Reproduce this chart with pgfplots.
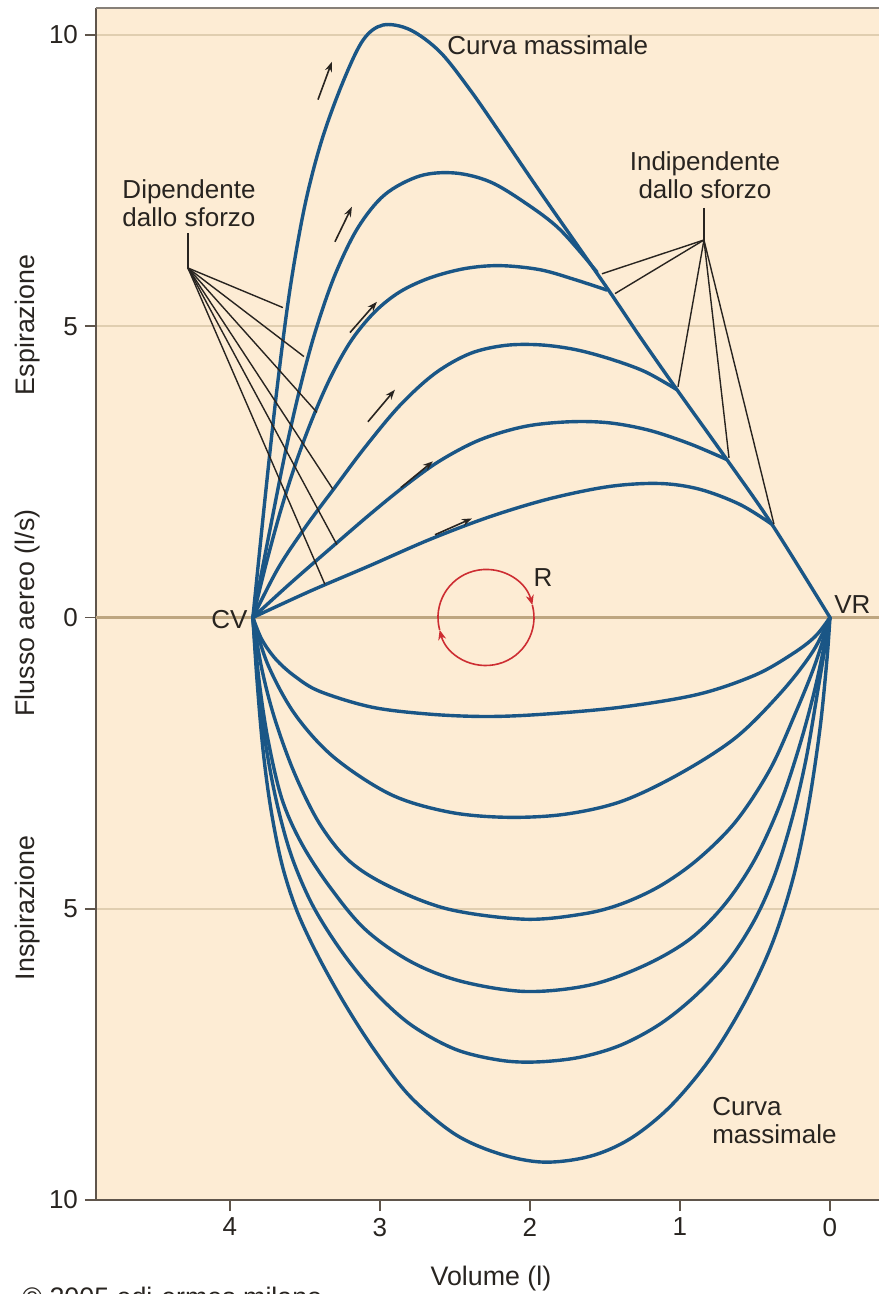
\documentclass[border=0pt]{standalone}
\usepackage{pgfplots}
\pgfplotsset{compat=1.18}
\usepackage{fontspec}
\setmainfont{Liberation Sans}
\usetikzlibrary{arrows.meta}
\definecolor{bg}{RGB}{253,236,212}
\definecolor{gridc}{RGB}{224,206,176}
\definecolor{zeroc}{RGB}{190,166,128}
\definecolor{axc}{RGB}{95,85,75}
\definecolor{curvec}{RGB}{26,86,134}
\definecolor{redc}{RGB}{205,45,50}
\definecolor{txt}{RGB}{40,36,32}
\tikzset{
  ann/.style={draw=txt, line width=0.7pt},
  arr/.style={draw=txt, line width=0.8pt, -{Stealth[length=5pt,width=3.6pt]}},
  lab/.style={text=txt, font=\fontsize{13}{14}\selectfont, inner sep=0pt},
  olab/.style={text=txt, font=\fontsize{13.4}{15}\selectfont, inner sep=0pt},
}
\pgfplotsset{curve/.style={draw=curvec, line width=1.7pt, smooth, tension=0.55, no markers, line cap=round, line join=round}}
\begin{document}
\begin{tikzpicture}
\begin{axis}[
  at={(0,0)}, anchor=south west,
  scale only axis, width=391.5pt, height=596pt,
  xmin=-0.327, xmax=4.893, ymin=-10, ymax=10.463,
  x dir=reverse,
  axis background/.style={fill=bg},
  axis x line*=bottom, axis y line*=left,
  axis line style={draw=axc, line width=1pt, -},
  xtick={0,1,2,3,4}, xticklabels={0,1,2,3,4},
  ytick={-10,-5,0,5,10}, yticklabels={10,5,0,5,10},
  tick align=outside, major tick length=5.5pt,
  tick style={draw=axc, line width=0.8pt},
  ymajorgrids, grid style={draw=gridc, line width=0.8pt},
  tick label style={font=\fontsize{13}{15}\selectfont, text=txt},
  clip=false,
]
% zero line and top border
\draw[zeroc, line width=1.2pt] (axis cs:4.893,0) -- (axis cs:-0.327,0);
\draw[axc!75, line width=1pt] (axis cs:4.893,10.463) -- (axis cs:-0.327,10.463);

% Expiration curves (maximal curve includes the effort-independent envelope)
\addplot[curve] coordinates {(3.847,0) (3.767,2.02) (3.687,3.91) (3.600,5.63) (3.500,7.08) (3.387,8.20) (3.247,9.19) (3.113,9.91) (2.980,10.17) (2.800,10.09) (2.600,9.71) (2.400,9.06) (2.200,8.32) (1.933,7.31) (1.500,5.71) (1.267,4.82) (1.020,3.91) (0.687,2.71) (0.387,1.60) (0,0)};
\addplot[curve] coordinates {(3.847,0) (3.733,1.51) (3.627,2.88) (3.527,4.00) (3.427,4.94) (3.300,5.88) (3.147,6.69) (2.967,7.26) (2.733,7.58) (2.500,7.63) (2.267,7.48) (2.033,7.12) (1.800,6.66) (1.553,5.93)};
\addplot[curve] coordinates {(3.847,0) (3.760,0.91) (3.660,1.85) (3.553,2.71) (3.440,3.48) (3.320,4.17) (3.187,4.77) (3.033,5.25) (2.867,5.59) (2.667,5.83) (2.433,5.99) (2.200,6.04) (1.933,5.97) (1.700,5.80) (1.487,5.62)};
\addplot[curve] coordinates {(3.847,0) (3.680,0.84) (3.500,1.54) (3.307,2.21) (3.100,2.92) (2.867,3.64) (2.633,4.19) (2.400,4.53) (2.167,4.67) (1.933,4.68) (1.700,4.60) (1.467,4.44) (1.233,4.22) (1.020,3.91)};
\addplot[curve] coordinates {(3.847,0) (3.600,0.58) (3.333,1.18) (3.067,1.77) (2.833,2.26) (2.600,2.69) (2.333,3.05) (2.033,3.28) (1.733,3.36) (1.467,3.34) (1.200,3.21) (0.933,2.98) (0.687,2.71)};
\addplot[curve] coordinates {(3.847,0) (3.467,0.45) (3.067,0.89) (2.667,1.34) (2.267,1.73) (1.867,2.04) (1.467,2.25) (1.133,2.30) (0.867,2.20) (0.600,1.94) (0.387,1.60)};

% Inspiration curves
\addplot[curve] coordinates {(3.847,0) (3.787,-0.38) (3.693,-0.72) (3.567,-1.01) (3.400,-1.27) (3.053,-1.54) (2.667,-1.66) (2.287,-1.70) (1.907,-1.66) (1.393,-1.54) (0.880,-1.32) (0.500,-0.99) (0.253,-0.63) (0.100,-0.33) (0,0)};
\addplot[curve] coordinates {(3.847,0) (3.747,-0.81) (3.567,-1.66) (3.307,-2.40) (2.927,-3.04) (2.540,-3.34) (2.160,-3.43) (1.773,-3.38) (1.393,-3.16) (1.007,-2.69) (0.627,-2.06) (0.320,-1.27) (0.113,-0.58) (0,0)};
\addplot[curve] coordinates {(3.847,0) (3.787,-0.89) (3.700,-1.75) (3.567,-2.69) (3.400,-3.55) (3.200,-4.19) (2.927,-4.63) (2.540,-5.01) (2.033,-5.18) (1.647,-5.09) (1.393,-4.92) (1.133,-4.61) (0.880,-4.15) (0.627,-3.50) (0.400,-2.61) (0.233,-1.66) (0.100,-0.81) (0,0)};
\addplot[curve] coordinates {(3.847,0) (3.807,-1.06) (3.747,-2.09) (3.653,-3.12) (3.520,-3.89) (3.333,-4.63) (3.100,-5.35) (2.800,-5.90) (2.467,-6.24) (2.033,-6.42) (1.600,-6.31) (1.233,-5.97) (0.933,-5.52) (0.700,-4.92) (0.500,-4.15) (0.333,-3.21) (0.200,-2.18) (0.093,-1.15) (0,0)};
\addplot[curve] coordinates {(3.847,0) (3.813,-1.06) (3.767,-2.09) (3.693,-3.12) (3.593,-4.07) (3.453,-4.92) (3.267,-5.69) (3.053,-6.38) (2.800,-6.98) (2.500,-7.41) (2.200,-7.60) (1.953,-7.63) (1.667,-7.55) (1.393,-7.34) (1.133,-6.98) (0.900,-6.50) (0.680,-5.90) (0.500,-5.18) (0.367,-4.41) (0.253,-3.46) (0.160,-2.44) (0.080,-1.24) (0,0)};
\addplot[curve] coordinates {(3.847,0) (3.820,-1.06) (3.780,-2.26) (3.727,-3.29) (3.653,-4.24) (3.553,-5.04) (3.413,-5.81) (3.233,-6.64) (3.033,-7.44) (2.800,-8.22) (2.500,-8.87) (2.200,-9.21) (1.907,-9.35) (1.600,-9.25) (1.333,-8.95) (1.067,-8.40) (0.800,-7.58) (0.567,-6.60) (0.387,-5.61) (0.247,-4.49) (0.147,-3.29) (0.067,-1.92) (0.020,-0.72) (0,0)};

% Annotation: Dipendente dallo sforzo
\draw[ann] (axis cs:4.28,6.60) -- (axis cs:4.28,6.00);
\draw[ann] (axis cs:4.28,6.00) -- (axis cs:3.647,5.32);
\draw[ann] (axis cs:4.28,6.00) -- (axis cs:3.507,4.48);
\draw[ann] (axis cs:4.28,6.00) -- (axis cs:3.420,3.52);
\draw[ann] (axis cs:4.28,6.00) -- (axis cs:3.313,2.20);
\draw[ann] (axis cs:4.28,6.00) -- (axis cs:3.287,1.25);
\draw[ann] (axis cs:4.28,6.00) -- (axis cs:3.367,0.57);
\node[lab, align=left] at (axis cs:4.273,7.12) {Dipendente\\dallo sforzo};

% Annotation: Indipendente dallo sforzo
\draw[ann] (axis cs:0.84,7.03) -- (axis cs:0.84,6.48);
\draw[ann] (axis cs:0.84,6.48) -- (axis cs:1.520,5.90);
\draw[ann] (axis cs:0.84,6.48) -- (axis cs:1.433,5.56);
\draw[ann] (axis cs:0.84,6.48) -- (axis cs:1.013,3.96);
\draw[ann] (axis cs:0.84,6.48) -- (axis cs:0.673,2.74);
\draw[ann] (axis cs:0.84,6.48) -- (axis cs:0.373,1.60);
\node[lab, align=center] at (axis cs:0.833,7.60) {Indipendente\\dallo sforzo};

% Other labels
\node[lab, anchor=west] at (axis cs:2.553,9.83) {Curva massimale};
\node[lab, anchor=west, align=left] at (axis cs:0.787,-8.64) {Curva\\massimale};
\node[lab, anchor=east] at (axis cs:3.88,-0.03) {CV};
\node[lab, anchor=west] at (axis cs:-0.027,0.22) {VR};
\node[lab] at (axis cs:1.913,0.69) {R};

% Flow direction arrows
\draw[arr] (axis cs:3.413,8.89) -- (axis cs:3.320,9.54);
\draw[arr] (axis cs:3.300,6.45) -- (axis cs:3.187,7.05);
\draw[arr] (axis cs:3.200,4.89) -- (axis cs:3.020,5.42);
\draw[arr] (axis cs:3.080,3.36) -- (axis cs:2.900,3.91);
\draw[arr] (axis cs:2.860,2.23) -- (axis cs:2.647,2.68);
\draw[arr] (axis cs:2.633,1.42) -- (axis cs:2.387,1.70);

% Red circular arrow
\draw[redc, line width=0.8pt, -{Stealth[length=5pt,width=4pt]}] (axis cs:2.293,0) ++(195:24pt) arc[start angle=195, end angle=15, radius=24pt];
\draw[redc, line width=0.8pt, -{Stealth[length=5pt,width=4pt]}] (axis cs:2.293,0) ++(15:24pt) arc[start angle=15, end angle=-165, radius=24pt];
\end{axis}
% outside labels (coordinates relative to axis lower-left corner)
\node[olab, rotate=90] at (-34.3pt,293.5pt) {Flusso aereo (l/s)};
\node[olab, rotate=90] at (-34.3pt,437.5pt) {Espirazione};
\node[olab, rotate=90] at (-34.3pt,146pt) {Inspirazione};
\node[olab] at (197.5pt,-39.5pt) {Volume (l)};
\node[olab, anchor=west] at (-37pt,-48.5pt) {© 2005 edi-ermes milano};
\pgfresetboundingbox
\path[use as bounding box] (-48pt,-47pt) rectangle (391.5pt,600pt);
\end{tikzpicture}
\end{document}
